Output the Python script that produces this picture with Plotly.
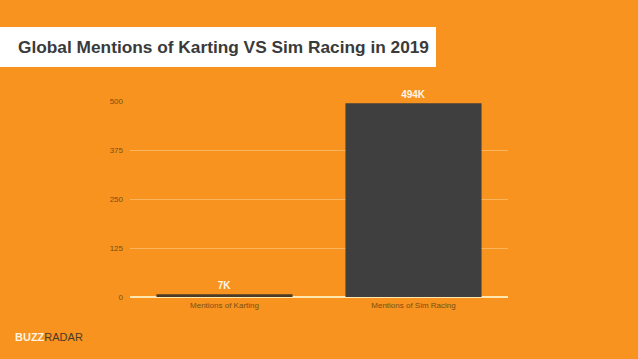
import plotly.graph_objects as go

categories = ["Mentions of Karting", "Mentions of Sim Racing"]
values = [7, 494]
value_labels = ["7K", "494K"]
tick_vals = [0, 125, 250, 375, 500]
title_text = "Global Mentions of Karting VS Sim Racing in 2019"

ORANGE = "#F7931E"
DARK = "#3F3F3F"

fig = go.Figure()
fig.add_trace(go.Bar(
    x=categories, y=values,
    marker=dict(color=["#4A3B26", DARK], line=dict(width=0)),
    text=value_labels, textposition="outside", cliponaxis=False,
    textfont=dict(family="Liberation Sans, Arial", size=10, color="#FFF6E6"),
    texttemplate="<b>%{text}</b>",
    width=0.72,
))

fig.update_layout(
    width=638, height=359,
    paper_bgcolor=ORANGE, plot_bgcolor=ORANGE,
    margin=dict(l=130, r=130, t=101, b=62),
    showlegend=False,
    font=dict(family="Liberation Sans, Arial", color="#6B4512"),
    xaxis=dict(showgrid=False, showline=False, ticks="",
               tickfont=dict(size=8, color="#7A5015"), zeroline=False,
               ticklabelstandoff=2),
    yaxis=dict(range=[0, 500], tickvals=tick_vals, ticks="",
               showgrid=True, gridcolor="rgba(255,215,160,0.5)", gridwidth=1,
               zeroline=True, zerolinecolor="#FFE8B0", zerolinewidth=2,
               tickfont=dict(size=8, color="#7A5015"), ticklabelstandoff=6),
    shapes=[dict(type="rect", xref="paper", yref="paper",
                 x0=-130/378, x1=(436-130)/378,
                 y0=(359-62-67)/196, y1=(359-62-27)/196,
                 fillcolor="white", line=dict(width=0), layer="above")],
    annotations=[
        dict(text="<b>" + title_text + "</b>", xref="paper", yref="paper",
             x=(16-130)/378, y=(359-62-47)/196, xanchor="left", yanchor="middle",
             showarrow=False, font=dict(size=17.3, color="#3A3A3A",
                                        family="Liberation Sans, Arial")),
        dict(text="<b>BUZZ</b><span style='color:#4A3A2A'>RADAR</span>",
             xref="paper", yref="paper",
             x=(13-130)/378, y=(359-62-337)/196, xanchor="left", yanchor="middle",
             showarrow=False, font=dict(size=11, color="#FFF3E0",
                                        family="Liberation Sans, Arial")),
    ],
)

fig.write_html("out.html", config={"displayModeBar": False},
               post_script="document.body.style.margin='0';document.body.style.padding='0';")
